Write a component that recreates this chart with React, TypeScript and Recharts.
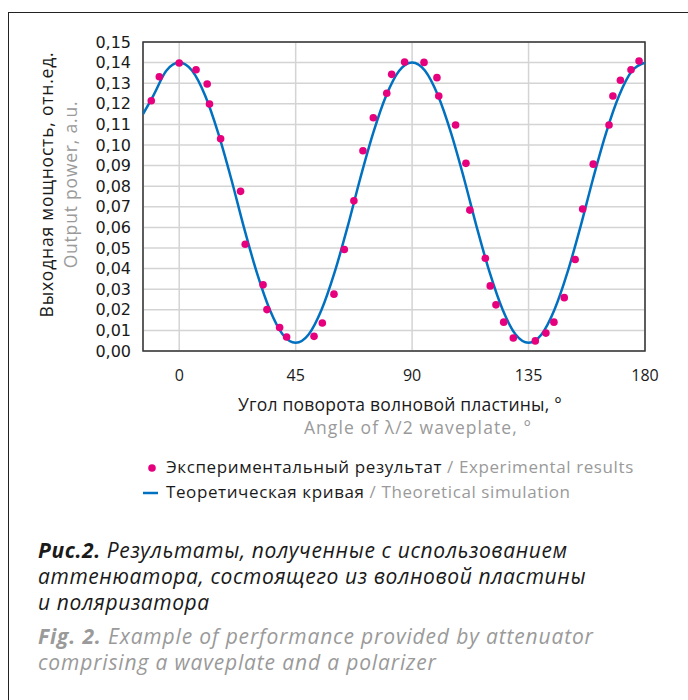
import {
  ComposedChart, Line, Scatter, XAxis, YAxis,
  CartesianGrid, ReferenceArea,
} from 'recharts';

// measured points (angle of the half-wave plate, degrees)
const expAngle = [
  -10.8, -7.7, 0, 6.5, 10.8, 11.7, 16.0, 23.7, 25.5, 32.4,
  33.9, 38.8, 41.5, 52.1, 55.3, 59.8, 63.8, 67.5, 71.0, 75.0,
  80.2, 82.1, 87.1, 94.6, 99.6, 100.3, 106.8, 110.8, 112.3, 118.3,
  120.2, 122.4, 125.4, 129.1, 137.6, 141.7, 144.8, 148.8, 153.0, 155.9,
  160.0, 166.1, 167.6, 170.5, 174.6, 177.7,
];
const expPower = [
  0.1215, 0.1331, 0.1398, 0.1365, 0.1296, 0.1199, 0.1030, 0.0775, 0.0518, 0.0321,
  0.0201, 0.0114, 0.0068, 0.0071, 0.0136, 0.0276, 0.0493, 0.0729, 0.0972, 0.1132,
  0.1251, 0.1343, 0.1403, 0.1401, 0.1327, 0.1238, 0.1097, 0.0911, 0.0684, 0.0450,
  0.0316, 0.0224, 0.0140, 0.0063, 0.0049, 0.0087, 0.0140, 0.0259, 0.0444, 0.0689,
  0.0907, 0.1097, 0.1238, 0.1314, 0.1365, 0.1408,
];

// theoretical curve
const theoryAngle = [
  -14, -10, -5, 0, 5, 10, 15, 20, 25, 30, 35, 40, 45, 50, 55, 60, 65, 70, 75, 80,
  85, 90, 95, 100, 105, 110, 115, 120, 125, 130, 135, 140, 145, 150, 155, 160,
  165, 170, 175, 180,
];
const theoryPower = [
  0.115, 0.124, 0.136, 0.140, 0.136, 0.124, 0.106, 0.084, 0.060, 0.038, 0.020, 0.008,
  0.004, 0.008, 0.020, 0.038, 0.060, 0.084, 0.106, 0.124, 0.136, 0.140, 0.136, 0.124,
  0.106, 0.084, 0.060, 0.038, 0.020, 0.008, 0.004, 0.008, 0.020, 0.038, 0.060, 0.084,
  0.106, 0.124, 0.136, 0.140,
];

const xTicks = [0, 45, 90, 135, 180];
const yTicks = [0, 0.01, 0.02, 0.03, 0.04, 0.05, 0.06, 0.07, 0.08, 0.09, 0.1, 0.11, 0.12, 0.13, 0.14, 0.15];

const PINK = '#e6007e';
const BLUE = '#0070c0';
const GREY = '#9a9a9a';
const INK = '#1a1a1a';
const SANS = '"Open Sans", "Noto Sans", sans-serif';

const points = expAngle.map((x, i) => ({ x, y: expPower[i] }));
const curve = theoryAngle.map((x, i) => ({ x, y: theoryPower[i] }));

const XTitle = ({ viewBox }: any) => {
  const cx = viewBox.x + viewBox.width / 2;
  return (
    <g fontFamily={SANS} fontSize={17.5} textAnchor="middle">
      <text x={cx + 6} y={viewBox.y + 60} fill={INK} letterSpacing={0.2}>Угол поворота волновой пластины, °</text>
      <text x={cx + 24} y={viewBox.y + 83} fill={GREY} letterSpacing={1.1}>Angle of λ/2 waveplate, °</text>
    </g>
  );
};

const YTitle = ({ viewBox }: any) => {
  const cy = viewBox.y + viewBox.height / 2 - 12;
  return (
    <g fontFamily={SANS} fontSize={17.5} letterSpacing={0.8} textAnchor="middle">
      <text x={53} y={cy} fill={INK} transform={`rotate(-90 53 ${cy})`}>Выходная мощность, отн.ед.</text>
      <text x={77} y={cy} fill={GREY} transform={`rotate(-90 77 ${cy})`}>Output power, a.u.</text>
    </g>
  );
};

const Dot = (props: any) => <circle cx={props.cx} cy={props.cy} r={3.8} fill={PINK} />;

export default function App() {
  return (
    <div style={{ position: 'absolute', left: 0, top: 0, width: 688, height: 700, overflow: 'hidden', background: '#fff' }}>
      <div style={{
        position: 'absolute', left: 8, top: 12, width: 720, height: 720,
        borderLeft: '1.5px solid #222', borderTop: '1.5px solid #222',
      }} />
      <div style={{ position: 'absolute', left: 0, top: 0 }}>
        <ComposedChart width={688} height={520} margin={{ top: 42, right: 43, bottom: 139, left: 0 }}>
          <CartesianGrid stroke="#d4d4d4" strokeWidth={1.5} />
          <XAxis
            dataKey="x" type="number" domain={[-14, 180]} ticks={xTicks}
            allowDataOverflow height={30} interval={0}
            tickLine={false} axisLine={false} tickSize={6} tickMargin={13}
            tick={{ fontSize: 16, fill: INK, fontFamily: SANS }}
            label={{ content: XTitle }}
          />
          <YAxis
            type="number" domain={[0, 0.15]} ticks={yTicks} width={143}
            allowDataOverflow interval={0}
            tickLine={false} axisLine={false} tickSize={6} tickMargin={6}
            tickFormatter={(v: number) => v.toFixed(2).replace('.', ',')}
            tick={{ fontSize: 16, fill: INK, fontFamily: '"DejaVu Sans", sans-serif' }}
            label={{ content: YTitle }}
          />
          <ReferenceArea x1={-14} x2={180} y1={0} y2={0.15} fill="none" stroke="#333" strokeWidth={1.5} strokeOpacity={1} fillOpacity={0} />
          <Line data={curve} dataKey="y" type="monotone" stroke={BLUE} strokeWidth={2.5} dot={false} isAnimationActive={false} />
          <Scatter data={points} dataKey="y" shape={Dot} isAnimationActive={false} />
        </ComposedChart>
      </div>

      <div style={{ position: 'absolute', left: 140, top: 454, fontFamily: SANS, fontSize: 17, letterSpacing: 0.6, lineHeight: '25px', color: INK, whiteSpace: 'nowrap' }}>
        <div>
          <svg width={26} height={14} style={{ verticalAlign: 'middle' }}>
            <circle cx={12} cy={7} r={3.8} fill={PINK} />
          </svg>
          Экспериментальный результат <span style={{ color: GREY }}>/ Experimental results</span>
        </div>
        <div>
          <svg width={26} height={14} style={{ verticalAlign: 'middle' }}>
            <line x1={3} x2={18} y1={7} y2={7} stroke={BLUE} strokeWidth={2.5} />
          </svg>
          Теоретическая кривая <span style={{ color: GREY }}>/ Theoretical simulation</span>
        </div>
      </div>

      <div style={{
        position: 'absolute', left: 38, top: 537, fontFamily: SANS, fontStyle: 'italic',
        fontSize: 21, letterSpacing: 0.6, lineHeight: '26px', color: INK, width: 650, whiteSpace: 'nowrap',
      }}>
        <div><b>Рис.2.</b> Результаты, полученные с использованием</div>
        <div>аттенюатора, состоящего из волновой пластины</div>
        <div>и поляризатора</div>
        <div style={{ color: GREY, marginTop: 8, letterSpacing: 0.85 }}><b>Fig. 2.</b> Example of performance provided by attenuator</div>
        <div style={{ color: GREY, letterSpacing: 0.85 }}>comprising a waveplate and a polarizer</div>
      </div>
    </div>
  );
}
